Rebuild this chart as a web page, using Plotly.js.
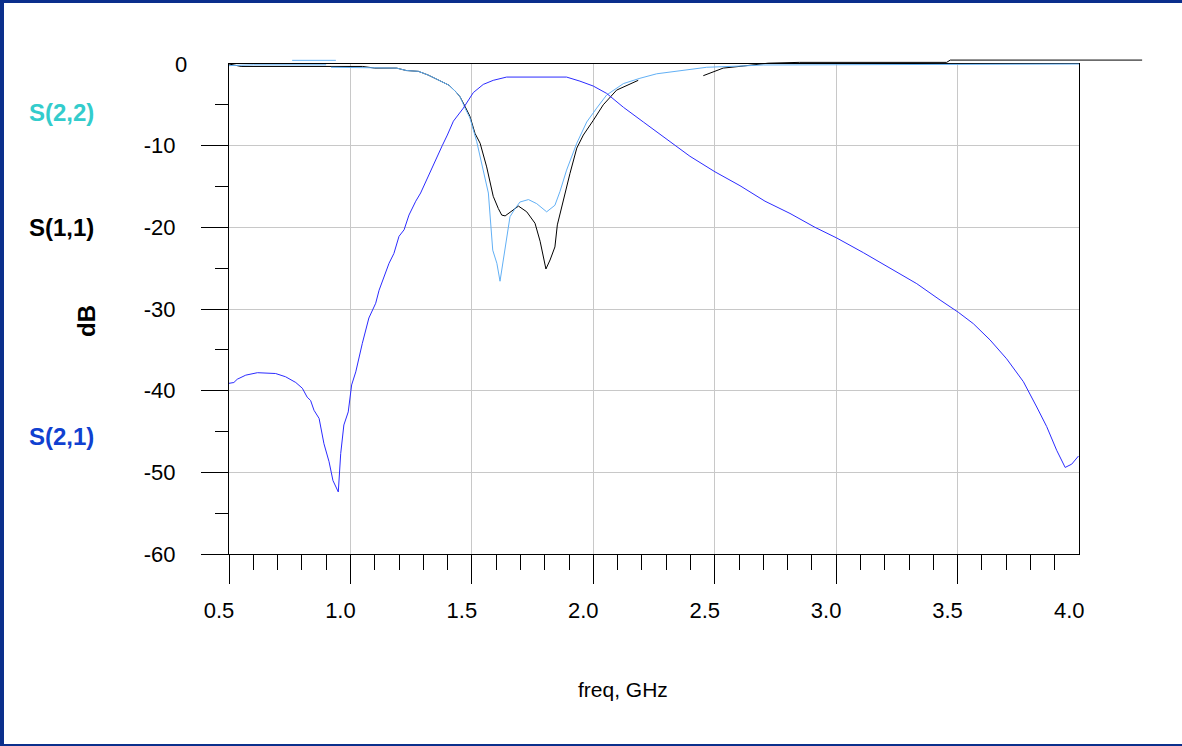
<!DOCTYPE html>
<html>
<head>
<meta charset="utf-8">
<script src="https://cdn.plot.ly/plotly-3.0.1.min.js"></script>
<style>
html,body{margin:0;padding:0;background:#ffffff;overflow:hidden}
#wrap{position:relative;width:1182px;height:746px}
#chart{width:1182px;height:746px}
#frame{position:absolute;left:0;top:0;width:1182px;height:746px;box-sizing:border-box;
  border-left:4px solid #0b2f8c;border-top:3px solid #0b2f8c;border-bottom:2px solid #0b2f8c;pointer-events:none}
</style>
</head>
<body>
<div id="wrap"><div id="chart"></div><div id="frame"></div></div>
<script>
// ---- data ----
const freqS21 = [0.50,0.52,0.534,0.569,0.617,0.692,0.733,0.775,0.802,0.822,0.836,0.850,0.871,0.891,0.912,0.928,0.950,0.960,0.973,0.991,1.005,1.022,1.049,1.076,1.104,1.118,1.159,1.179,1.200,1.221,1.241,1.269,1.289,1.310,1.337,1.358,1.378,1.399,1.424,1.465,1.506,1.547,1.588,1.643,1.700,1.800,1.890,1.945,2.000,2.055,2.124,2.206,2.288,2.398,2.501,2.604,2.707,2.810,2.913,3.002,3.112,3.222,3.332,3.428,3.503,3.565,3.634,3.702,3.771,3.826,3.867,3.908,3.943,3.970,3.998];
const dbS21   = [-39.1,-39.0,-38.6,-38.1,-37.8,-37.9,-38.3,-39.0,-39.7,-40.8,-41.2,-42.4,-43.4,-46.5,-48.7,-51.0,-52.4,-47.7,-44.2,-42.6,-39.3,-37.7,-34.2,-31.1,-29.3,-27.7,-24.4,-23.2,-21.1,-20.3,-18.5,-16.8,-15.8,-14.4,-12.7,-11.3,-10.0,-8.7,-7.0,-5.4,-3.5,-2.5,-2.0,-1.6,-1.6,-1.6,-1.6,-2.1,-2.7,-3.6,-5.3,-7.1,-8.9,-11.3,-13.2,-14.9,-16.8,-18.3,-20.0,-21.3,-23.1,-25.0,-26.9,-28.9,-30.4,-31.8,-33.8,-36.1,-38.9,-42.0,-44.4,-47.3,-49.4,-49.0,-48.0];

const freqS11 = [0.50,0.55,1.05,1.10,1.19,1.23,1.28,1.32,1.365,1.406,1.434,1.451,1.472,1.492,1.513,1.534,1.561,1.588,1.609,1.623,1.637,1.664,1.692,1.726,1.760,1.781,1.794,1.805,1.822,1.842,1.852,1.870,1.883,1.904,1.932,1.959,2.000,2.041,2.096,2.137,2.185,2.30,2.453,2.535,2.617,2.700,2.720,2.850,3.455,3.470,4.260];
const dbS11   = [0.0,-0.3,-0.3,-0.5,-0.5,-0.8,-0.9,-1.35,-2.0,-2.6,-3.4,-4.0,-5.2,-6.4,-8.5,-9.7,-12.6,-16.2,-17.7,-18.5,-18.6,-18.0,-17.4,-18.1,-19.5,-21.7,-23.6,-25.1,-24.0,-22.4,-19.7,-17.5,-15.8,-13.4,-10.3,-8.7,-6.9,-5.0,-3.2,-2.6,-2.0,null,-1.43,-0.5,-0.25,0.0,0.1,0.2,0.2,0.48,0.48];

const freqS22 = [0.50,0.60,0.90,0.92,0.76,0.76,0.94,0.95,0.92,1.19,1.23,1.28,1.32,1.365,1.406,1.434,1.451,1.472,1.492,1.520,1.547,1.568,1.586,1.603,1.616,1.637,1.657,1.678,1.698,1.733,1.767,1.808,1.842,1.863,1.890,1.932,1.973,2.014,2.055,2.124,2.192,2.261,2.371,2.467,2.604,2.700,4.000];
const dbS22   = [-0.2,-0.1,-0.1,null,0.45,0.45,0.45,null,-0.4,-0.5,-0.8,-0.9,-1.35,-2.0,-2.6,-3.4,-4.0,-5.4,-6.6,-9.5,-13.0,-15.8,-22.8,-24.4,-26.6,-22.8,-18.7,-17.7,-16.9,-16.6,-17.1,-18.1,-17.3,-15.6,-13.0,-9.7,-7.1,-5.4,-3.8,-2.4,-1.75,-1.2,-0.73,-0.4,-0.25,-0.12,0.0];

const xTickVals = [0.5,1.0,1.5,2.0,2.5,3.0,3.5,4.0];
const xTickText = ['0.5','1.0','1.5','2.0','2.5','3.0','3.5','4.0'];
const yTickVals = [-60,-50,-40,-30,-20,-10,0];
const yTickText = ['-60','-50','-40','-30','-20','-10','0'];
const seriesLabels = ['S(2,2)','S(1,1)','S(2,1)'];
const xLabel = 'freq, GHz';
const yLabel = 'dB';

// ---- geometry ----
const W = 1182, H = 746;
const ML = 229, MR = 32, MT = 50, MB = 192;
const PW = W - ML - MR, PH = H - MT - MB;
const frameRight = 1079, frameTop = 64, frameBottom = H - MB;
const xDomTop = (frameRight - ML) / PW;
const yDomTop = (frameBottom - frameTop) / PH;
const xMin = xTickVals[0], xMax = xTickVals[xTickVals.length - 1];
const yMin = yTickVals[0], yMax = yTickVals[yTickVals.length - 1];
const x2Max = xMin + (xMax - xMin) / xDomTop;
const y2Max = yMin + (yMax - yMin) / yDomTop;
const px = v => (v - ML) / PW;
const py = v => (frameBottom - v) / PH;

// minor ticks
const xMinor = [];
for (let i = 6; i < 40; i++) { if (i % 5 !== 0) xMinor.push(i / 10); }
const yMinor = [];
for (let v = -55; v < 0; v += 10) yMinor.push(v);

const FONT = 'Liberation Sans, Arial, Helvetica, sans-serif';

const traces = [
  // invisible trace to instantiate the framed subplot
  {x: [xMin], y: [yMin], type: 'scatter', mode: 'markers', marker: {opacity: 0}, hoverinfo: 'skip', xaxis: 'x', yaxis: 'y'},
  {x: freqS11, y: dbS11, name: seriesLabels[1], type: 'scatter', mode: 'lines',
   line: {color: '#000000', width: 1}, xaxis: 'x2', yaxis: 'y2', connectgaps: false},
  {x: freqS22, y: dbS22, name: seriesLabels[0], type: 'scatter', mode: 'lines',
   line: {color: '#62b0f5', width: 1}, xaxis: 'x2', yaxis: 'y2', connectgaps: false},
  {x: freqS21, y: dbS21, name: seriesLabels[2], type: 'scatter', mode: 'lines',
   line: {color: '#2b2bff', width: 1}, xaxis: 'x2', yaxis: 'y2'}
];

const tickFont = {family: FONT, size: 22, color: '#000000'};

const layout = {
  width: W, height: H,
  margin: {l: ML, r: MR, t: MT, b: MB, pad: 0},
  paper_bgcolor: '#ffffff', plot_bgcolor: 'rgba(0,0,0,0)',
  showlegend: false,
  xaxis: {
    domain: [0, xDomTop], range: [xMin, xMax], fixedrange: true,
    tickmode: 'array', tickvals: xTickVals.slice(0, -1), ticktext: xTickText.slice(0, -1),
    ticks: 'outside', ticklen: 29, tickwidth: 1, tickcolor: '#000000',
    ticklabelshift: -10, ticklabelstandoff: 8,
    minor: {tickmode: 'array', tickvals: xMinor, ticks: 'outside', ticklen: 15, tickwidth: 1, tickcolor: '#000000', showgrid: false},
    showline: true, linecolor: '#000000', linewidth: 1, mirror: true,
    showgrid: true, gridcolor: '#c8c8c8', gridwidth: 1, zeroline: false,
    tickfont: tickFont, anchor: 'y', layer: 'above traces'
  },
  yaxis: {
    domain: [0, yDomTop], range: [yMin, yMax], fixedrange: true,
    tickmode: 'array', tickvals: yTickVals.slice(0, -1), ticktext: yTickText.slice(0, -1),
    ticks: 'outside', ticklen: 27, tickwidth: 1, tickcolor: '#000000',
    ticklabelstandoff: 21,
    minor: {tickmode: 'array', tickvals: yMinor, ticks: 'outside', ticklen: 13, tickwidth: 1, tickcolor: '#000000', showgrid: false},
    showline: true, linecolor: '#000000', linewidth: 1, mirror: true,
    showgrid: true, gridcolor: '#c8c8c8', gridwidth: 1, zeroline: false,
    tickfont: tickFont, anchor: 'x', layer: 'above traces'
  },
  xaxis2: {domain: [0, 1], range: [xMin, x2Max], visible: false, fixedrange: true, anchor: 'y2', showgrid: false, zeroline: false},
  yaxis2: {domain: [0, 1], range: [yMin, y2Max], visible: false, fixedrange: true, anchor: 'x2', showgrid: false, zeroline: false},
  annotations: [
    {text: yTickText[yTickText.length - 1], xref: 'paper', yref: 'y', x: px(189), y: yMax,
     xanchor: 'right', yanchor: 'middle', showarrow: false, font: tickFont},
    {text: xTickText[xTickText.length - 1], xref: 'x', yref: 'paper', x: xMax, xshift: -10, y: py(610),
     xanchor: 'center', yanchor: 'middle', showarrow: false, font: tickFont},
    {text: '<b>' + seriesLabels[0] + '</b>', xref: 'paper', yref: 'paper', x: px(61), y: py(112.5),
     xanchor: 'center', yanchor: 'middle', showarrow: false, font: {family: FONT, size: 24, color: '#33cccc'}},
    {text: '<b>' + seriesLabels[1] + '</b>', xref: 'paper', yref: 'paper', x: px(61), y: py(228),
     xanchor: 'center', yanchor: 'middle', showarrow: false, font: {family: FONT, size: 24, color: '#000000'}},
    {text: '<b>' + seriesLabels[2] + '</b>', xref: 'paper', yref: 'paper', x: px(61), y: py(436),
     xanchor: 'center', yanchor: 'middle', showarrow: false, font: {family: FONT, size: 24, color: '#1040d0'}},
    {text: '<b>' + yLabel + '</b>', xref: 'paper', yref: 'paper', x: px(86), y: py(321), textangle: -90,
     xanchor: 'center', yanchor: 'middle', showarrow: false, font: {family: FONT, size: 24, color: '#000000'}},
    {text: xLabel, xref: 'paper', yref: 'paper', x: px(623), y: py(689),
     xanchor: 'center', yanchor: 'middle', showarrow: false, font: {family: FONT, size: 21, color: '#000000'}}
  ]
};

Plotly.newPlot('chart', traces, layout, {displayModeBar: false, staticPlot: true});
</script>
</body>
</html>
